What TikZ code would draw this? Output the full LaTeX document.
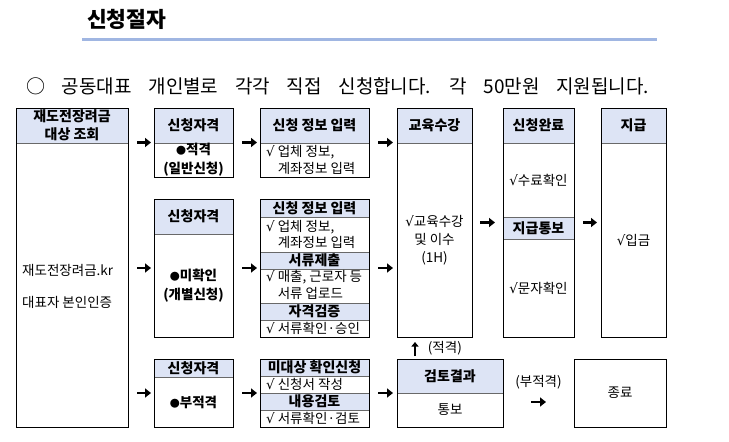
\documentclass[tikz,border=0pt]{standalone}
\usepackage{fontspec}
\setmainfont{Noto Sans CJK KR}
\newfontfamily\symfont{DejaVu Sans}
\usepackage{xcolor}
\usepackage{tikz}
\usetikzlibrary{positioning,arrows.meta,calc,backgrounds}
\definecolor{hdrblue}{RGB}{221,228,245}
\definecolor{barblue}{RGB}{160,182,226}
\definecolor{sepgray}{RGB}{105,105,105}
\newcommand{\ckmark}{{\symfont √}}
\newcommand{\dotmark}{{\fontsize{10}{10}\selectfont ●}}
\tikzset{
  box-node/.style={draw=black, line width=0.9pt, outer sep=0pt, inner sep=0pt},
  hdr-node/.style={fill=hdrblue, draw=sepgray, line width=0.9pt, outer sep=0pt,
    inner sep=0pt, font=\fontsize{14}{18}\selectfont\bfseries, align=center},
  bold-text/.style={font=\fontsize{13.5}{19}\selectfont\bfseries, align=center, inner sep=0pt},
  body-text/.style={font=\fontsize{13.5}{18}\selectfont, align=center, inner sep=0pt},
  list-text/.style={font=\fontsize{13.5}{16.6}\selectfont, align=left, anchor=west, inner sep=0pt},
  title-text/.style={font=\fontsize{21.5}{24}\selectfont\bfseries, inner sep=0pt},
  intro-text/.style={font=\fontsize{19}{21}\selectfont, inner sep=0pt},
  title-bar/.style={line width=3.3pt, draw=barblue},
  flow-arrow/.style={-{Triangle[length=6pt,width=9pt]}, line width=2.6pt},
  up-arrow/.style={-{Triangle[length=4.5pt,width=7pt]}, line width=1.8pt}
}
\begin{document}
\begin{tikzpicture}[x=1pt,y=-1pt]
\useasboundingbox (0,0) rectangle (729,442);
% heading
\node[title-text, anchor=west] (title) at (87,19) {신청절자};
\draw[title-bar] (82,39.3) -- (657,39.3);
\node[intro-text, anchor=west] (intro) at (26,86)
  {\spaceskip=0.88em ○ 공동대표 개인별로 각각 직접 신청합니다. 각 50만원 지원됩니다.};

% boxes
\node[box-node, minimum width=112, minimum height=319] (b1) at (72,267.5) {};
\node[box-node, minimum width=79, minimum height=69] (q1) at (193.5,142.5) {};
\node[box-node, minimum width=79, minimum height=138] (q2) at (193.5,268) {};
\node[box-node, minimum width=79, minimum height=68] (q3) at (193.5,393) {};
\node[box-node, minimum width=109, minimum height=69] (i1) at (314.5,142.5) {};
\node[box-node, minimum width=109, minimum height=138] (i2) at (314.5,268) {};
\node[box-node, minimum width=109, minimum height=68] (i3) at (314.5,393) {};
\node[box-node, minimum width=75, minimum height=229] (e1) at (434.5,222.5) {};
\node[box-node, minimum width=106, minimum height=68] (e2) at (450,393) {};
\node[box-node, minimum width=71, minimum height=229] (d1) at (538.5,222.5) {};
\node[box-node, minimum width=65, minimum height=229] (p1) at (633.5,222.5) {};
\node[box-node, body-text, minimum width=92, minimum height=68] (fin) at (620,393) {종료};

% headers
\begin{scope}[on background layer]
\node[hdr-node, minimum width=112, minimum height=35, anchor=north] (b1h) at (b1.north)
  {재도전장려금\\대상 조회};
\node[hdr-node, minimum width=79, minimum height=35, anchor=north] (q1h) at (q1.north) {신청자격};
\node[hdr-node, minimum width=79, minimum height=35, anchor=north] (q2h) at (q2.north) {신청자격};
\node[hdr-node, minimum width=79, minimum height=18, anchor=north] (q3h) at (q3.north) {신청자격};
\node[hdr-node, minimum width=109, minimum height=35, anchor=north] (i1h) at (i1.north) {신청 정보 입력};
\node[hdr-node, minimum width=109, minimum height=18, anchor=north] (i2h) at (i2.north) {신청 정보 입력};
\node[hdr-node, minimum width=109, minimum height=17, anchor=north] (i2s) at (314.5,252) {서류제출};
\node[hdr-node, minimum width=109, minimum height=17, anchor=north] (i2v) at (314.5,303) {자격검증};
\node[hdr-node, minimum width=109, minimum height=17, anchor=north] (i3h) at (i3.north) {미대상 확인신청};
\node[hdr-node, minimum width=109, minimum height=17, anchor=north] (i3r) at (314.5,393) {내용검토};
\node[hdr-node, minimum width=75, minimum height=35, anchor=north] (e1h) at (e1.north) {교육수강};
\node[hdr-node, minimum width=106, minimum height=34, anchor=north] (e2h) at (e2.north) {검토결과};
\node[hdr-node, minimum width=71, minimum height=35, anchor=north] (d1h) at (d1.north) {신청완료};
\node[hdr-node, minimum width=71, minimum height=22, anchor=north] (d1s) at (538.5,217) {지급통보};
\node[hdr-node, minimum width=65, minimum height=35, anchor=north] (p1h) at (p1.north) {지급};
\end{scope}

% box contents
\node[body-text, anchor=west] (b1t) at (22,270) {재도전장려금.kr};
\node[body-text, anchor=west] (b1u) at (22,302) {대표자 본인인증};
\node[bold-text] (q1t) at (193.5,160) {\dotmark 적격\\(일반신청)};
\node[bold-text] (q2t) at (193.5,285.5) {\dotmark 미확인\\(개별신청)};
\node[bold-text] (q3t) at (193.5,402) {\dotmark 부적격};
\node[list-text] (i1t) at (266,160) {\ckmark\ 업체 정보,\\\phantom{\ckmark\ }계좌정보 입력};
\node[list-text] (i2t) at (266,234.5) {\ckmark\ 업체 정보,\\\phantom{\ckmark\ }계좌정보 입력};
\node[list-text] (i2u) at (266,285) {\ckmark\ 매출, 근로자 등\\\phantom{\ckmark\ }서류 업로드};
\node[list-text] (i2w) at (266,328) {\ckmark\ 서류확인·승인};
\node[list-text] (i3t) at (266,384.7) {\ckmark\ 신청서 작성};
\node[list-text] (i3u) at (266,418.7) {\ckmark\ 서류확인·검토};
\node[body-text] (e1t) at (434.5,240.5) {\ckmark 교육수강\\및 이수\\(1H)};
\node[body-text] (e2t) at (450,410) {통보};
\node[body-text] (d1t) at (538.5,180) {\ckmark 수료확인};
\node[body-text] (d1u) at (538.5,288) {\ckmark 문자확인};
\node[body-text] (p1t) at (633.5,240) {\ckmark 입금};

% arrows
\draw[flow-arrow, shorten <=9pt, shorten >=3pt] (b1.east |- q1.west) -- (q1.west);
\draw[flow-arrow, shorten <=9pt, shorten >=3pt] (b1.east |- q2.west) -- (q2.west);
\draw[flow-arrow, shorten <=9pt, shorten >=3pt] (b1.east |- q3.west) -- (q3.west);
\draw[flow-arrow, shorten <=9pt, shorten >=3pt] (q1.east) -- (i1.west);
\draw[flow-arrow, shorten <=9pt, shorten >=3pt] (q2.east) -- (i2.west);
\draw[flow-arrow, shorten <=9pt, shorten >=3pt] (q3.east) -- (i3.west);
\draw[flow-arrow, shorten <=9pt, shorten >=4pt] (i1.east) -- (i1.east -| e1.west);
\draw[flow-arrow, shorten <=9pt, shorten >=4pt] (i2.east) -- (i2.east -| e1.west);
\draw[flow-arrow, shorten <=9pt, shorten >=4pt] (i3.east) -- (e2.west);
\draw[flow-arrow, shorten <=8pt, shorten >=8pt] (e1.east) -- (d1.west);
\draw[flow-arrow, shorten <=9pt, shorten >=4pt] (d1.east) -- (p1.west);
\draw[flow-arrow, shorten <=28pt, shorten >=28pt] ([yshift=-9pt]e2.east) -- ([yshift=-9pt]fin.west)
  node[body-text, midway, above=12pt] (nok) {(부적격)};
\draw[up-arrow, shorten <=3pt, shorten >=5pt] ([xshift=-35pt]e2.north) -- ([xshift=-35pt]e2.north |- e1.south)
  node[body-text, midway, right=12pt] (ok) {(적격)};
\end{tikzpicture}
\end{document}
